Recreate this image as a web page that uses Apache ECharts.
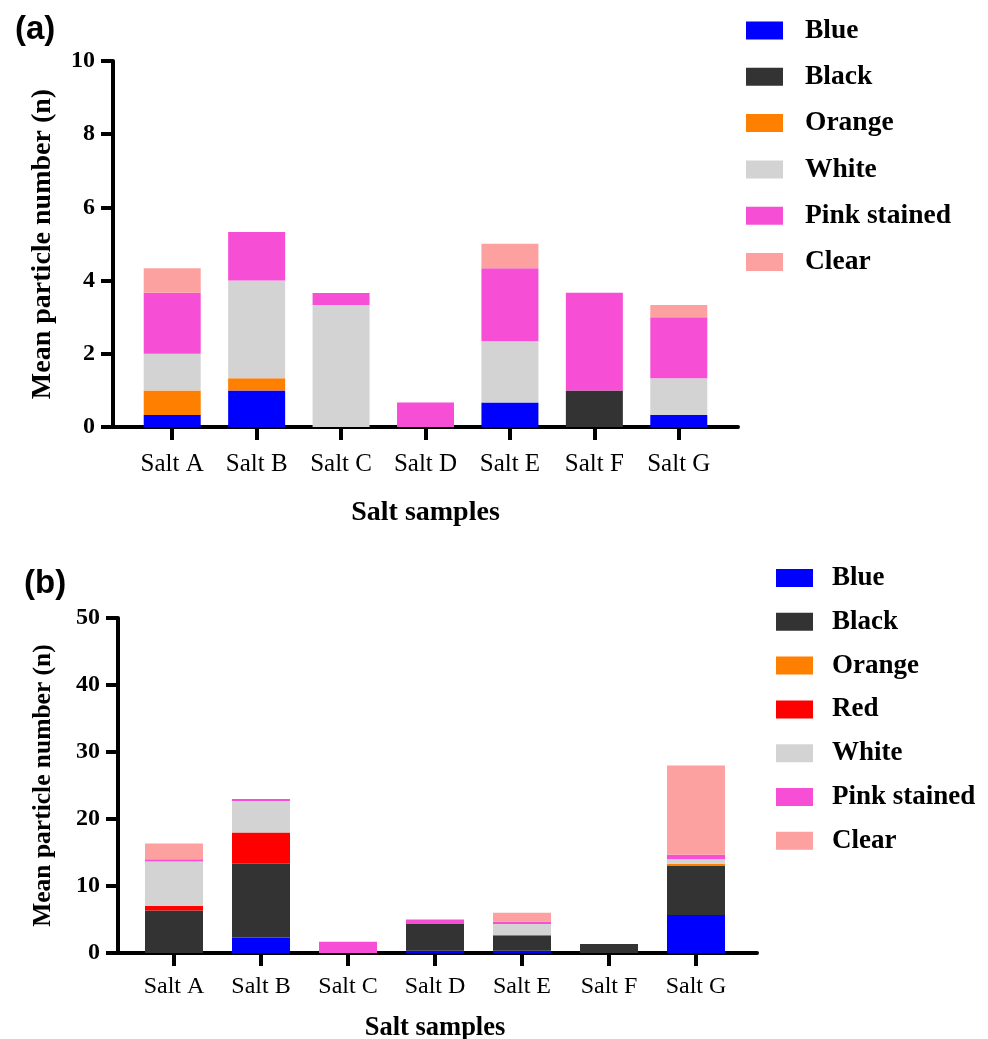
<!DOCTYPE html>
<html>
<head>
<meta charset="utf-8">
<script src="https://cdn.jsdelivr.net/npm/echarts@6/dist/echarts.min.js"></script>
<style>
html,body{margin:0;padding:0;background:#fff;}
#chart{width:988px;height:1039px;}
</style>
</head>
<body>
<div id="chart"></div>
<script>
const categories = ['Salt A', 'Salt B', 'Salt C', 'Salt D', 'Salt E', 'Salt F', 'Salt G'];
const yTicksA = [0, 2, 4, 6, 8, 10];
const yTicksB = [0, 10, 20, 30, 40, 50];

// Panel (a)
const aBlue   = [0.33, 1.00, 0,    0,    0.67, 0,    0.33];
const aBlack  = [0,    0,    0,    0,    0,    1.00, 0];
const aOrange = [0.67, 0.33, 0,    0,    0,    0,    0];
const aWhite  = [1.00, 2.67, 3.33, 0,    1.67, 0,    1.00];
const aPink   = [1.67, 1.33, 0.33, 0.67, 2.00, 2.67, 1.67];
const aClear  = [0.67, 0,    0,    0,    0.67, 0,    0.33];

// Panel (b)
const bBlue   = [0,    2.33, 0,    0.33, 0.33, 0,    5.67];
const bBlack  = [6.33, 11.0, 0,    4.00, 2.33, 1.33, 7.33];
const bOrange = [0,    0,    0,    0,    0,    0,    0.33];
const bRed    = [0.67, 4.67, 0,    0,    0,    0,    0];
const bWhite  = [6.67, 4.67, 0,    0,    1.67, 0,    0.67];
const bPink   = [0.33, 0.33, 1.67, 0.67, 0.33, 0,    0.67];
const bClear  = [2.33, 0,    0,    0,    1.33, 0,    13.33];

const namesA = ['Blue', 'Black', 'Orange', 'White', 'Pink stained', 'Clear'];
const namesB = ['Blue', 'Black', 'Orange', 'Red', 'White', 'Pink stained', 'Clear'];
const colors = {
  'Blue': '#0000FF', 'Black': '#333333', 'Orange': '#FF7F00', 'Red': '#FF0000',
  'White': '#D3D3D3', 'Pink stained': '#F64FD5', 'Clear': '#FCA0A0'
};
const dataA = [aBlue, aBlack, aOrange, aWhite, aPink, aClear];
const dataB = [bBlue, bBlack, bOrange, bRed, bWhite, bPink, bClear];

const serif = '"Liberation Serif", "Times New Roman", serif';
const sans = '"Liberation Sans", Arial, sans-serif';

function frameX(gridIndex) {
  return {
    type: 'value', gridIndex: gridIndex, min: 0, max: 1,
    axisLine: { show: true, onZero: false, lineStyle: { color: '#000', width: 4 } },
    axisTick: { show: false }, axisLabel: { show: false }, splitLine: { show: false }
  };
}
function frameY(gridIndex, max, interval, nameGap, nameSize) {
  return {
    type: 'value', gridIndex: gridIndex, min: 0, max: max, interval: interval,
    axisLine: { show: true, lineStyle: { color: '#000', width: 4 } },
    axisTick: { show: true, inside: false, length: 12, lineStyle: { color: '#000', width: 4 } },
    axisLabel: { show: true, margin: 18, color: '#000', fontFamily: serif, fontWeight: 'bold', fontSize: 24 },
    splitLine: { show: false },
    name: 'Mean particle number (n)', nameLocation: 'middle', nameRotate: 90, nameGap: nameGap,
    nameTextStyle: { color: '#000', fontFamily: serif, fontWeight: 'bold', fontSize: nameSize }
  };
}
function catX(gridIndex, labelSize, labelMargin, nameSize, nameGap) {
  return {
    type: 'category', gridIndex: gridIndex, data: categories, boundaryGap: true,
    axisLine: { show: false },
    axisTick: { show: true, alignWithLabel: true, length: 13, lineStyle: { color: '#000', width: 4 } },
    axisLabel: { show: true, margin: labelMargin, color: '#000', fontFamily: serif, fontSize: labelSize },
    splitLine: { show: false },
    name: 'Salt samples', nameLocation: 'middle', nameGap: nameGap,
    nameTextStyle: { color: '#000', fontFamily: serif, fontWeight: 'bold', fontSize: nameSize }
  };
}
function hiddenY(gridIndex, max) {
  return { type: 'value', gridIndex: gridIndex, min: 0, max: max, show: false, splitLine: { show: false } };
}

const series = [];
namesA.forEach((n, i) => {
  series.push({
    type: 'bar', name: n, stack: 'a', xAxisIndex: 1, yAxisIndex: 1, barWidth: 57,
    itemStyle: { color: colors[n] }, data: dataA[i]
  });
});
namesB.forEach((n, i) => {
  series.push({
    type: 'bar', name: n, stack: 'b', xAxisIndex: 3, yAxisIndex: 3, barWidth: 58,
    itemStyle: { color: colors[n] }, data: dataB[i]
  });
});

function legend(names, left, top, gap, textPad, fontSize) {
  return {
    data: names.map(n => ({ name: n, itemStyle: { color: colors[n] } })),
    orient: 'vertical', left: left, top: top, itemWidth: 37, itemHeight: 18, itemGap: gap,
    icon: 'rect', selectedMode: false,
    textStyle: { color: '#000', fontFamily: serif, fontWeight: 'bold', fontSize: fontSize, lineHeight: fontSize, padding: [0, 0, 0, textPad] }
  };
}

function grid(left, top, width, height) {
  return { left: left, top: top, width: width, height: height, containLabel: false, outerBoundsMode: 'none' };
}

const option = {
  animation: false,
  backgroundColor: '#fff',
  title: [
    { text: '(a)', left: 10, top: 8, textStyle: { fontFamily: sans, fontWeight: 'bold', fontSize: 33, color: '#000' } },
    { text: '(b)', left: 19, top: 562, textStyle: { fontFamily: sans, fontWeight: 'bold', fontSize: 33, color: '#000' } }
  ],
  legend: [
    legend(namesA, 741, 11.5, 18.3, 17, 27.5),
    legend(namesB, 771, 559.5, 16.8, 14, 27)
  ],
  grid: [
    grid(113, 61, 625, 366),
    grid(130, 61, 591, 366),
    grid(118, 618, 639, 335),
    grid(130.5, 618, 609, 335)
  ],
  xAxis: [frameX(0), catX(1, 25, 25, 28, 72), frameX(2), catX(3, 24, 22, 26.5, 62)],
  yAxis: [frameY(0, 10, 2, 56, 28), hiddenY(1, 10), frameY(2, 50, 10, 62, 25.5), hiddenY(3, 50)],
  series: series
};

const chart = echarts.init(document.getElementById('chart'), null, { renderer: 'canvas' });
chart.setOption(option);
</script>
</body>
</html>
